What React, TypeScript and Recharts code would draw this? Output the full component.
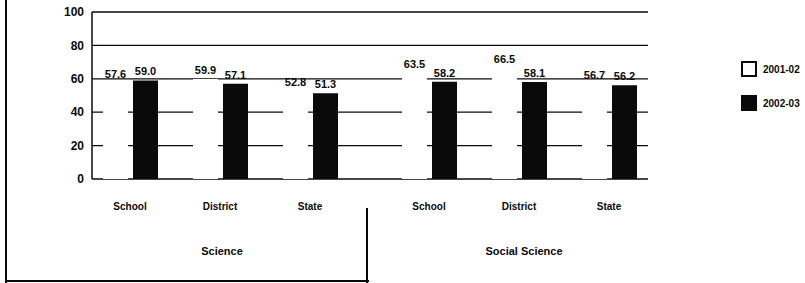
import React from "react";
import {
  BarChart,
  Bar,
  XAxis,
  YAxis,
  CartesianGrid,
  LabelList,
} from "recharts";

// ── Data ──────────────────────────────────────────────────────────────────────

const categories = ["School", "District", "State"];
const subjects = ["Science", "Social Science"];
const years = ["2001-02", "2002-03"];

const science2001 = [57.6, 59.9, 52.8];
const science2002 = [59.0, 57.1, 51.3];
const social2001 = [63.5, 66.5, 56.7];
const social2002 = [58.2, 58.1, 56.2];

const yTicks = [0, 20, 40, 60, 80, 100];

const scienceRows = categories.map((c, i) => ({ name: c, a: science2001[i], b: science2002[i] }));
const socialRows = categories.map((c, i) => ({ name: c, a: social2001[i], b: social2002[i] }));

// ── Styles ────────────────────────────────────────────────────────────────────

const FONT = "'Liberation Sans', Arial, sans-serif";
const INK = "#0a0a0a";
const H = 283;
const MARGIN_TOP = 12;
const MARGIN_BOTTOM = 74;
const X_AXIS_H = 30;

const fmt = (v: any) => Number(v).toFixed(1);

const labelStyle = { fontFamily: FONT, fontSize: 11, fontWeight: 700, fill: INK };
const tickStyle = { fontFamily: FONT, fontSize: 10, fontWeight: 700, fill: INK };

function Panel({
  rows,
  width,
  margin,
  padding,
  left,
}: {
  rows: any[];
  width: number;
  margin: any;
  padding: any;
  left: boolean;
}) {
  return (
    <BarChart width={width} height={H} data={rows} margin={margin} barSize={25} barGap={5}>
      <CartesianGrid vertical={false} stroke={INK} strokeWidth={1.3} />
      <XAxis
        dataKey="name"
        axisLine={false}
        tickLine={false}
        tick={tickStyle}
        tickMargin={18}
        height={X_AXIS_H}
        padding={padding}
        interval={0}
      />
      {left ? (
        <YAxis
          domain={[0, 100]}
          ticks={yTicks}
          width={92}
          axisLine={{ stroke: INK, strokeWidth: 1.5 }}
          tickLine={false}
          tick={{ ...tickStyle, fontSize: 12 }}
        />
      ) : (
        <YAxis
          orientation="right"
          domain={[0, 100]}
          ticks={yTicks}
          width={0}
          axisLine={{ stroke: INK, strokeWidth: 1.5 }}
          tickLine={false}
          tick={{ fill: "none", fontSize: 1 }}
        />
      )}
      <Bar dataKey="a" name={years[0]} fill="#ffffff" isAnimationActive={false}>
        <LabelList dataKey="a" position="top" formatter={fmt} style={labelStyle} />
      </Bar>
      <Bar dataKey="b" name={years[1]} fill={INK} isAnimationActive={false}>
        <LabelList dataKey="b" position="top" formatter={fmt} style={labelStyle} />
      </Bar>
    </BarChart>
  );
}

export default function App() {
  const groupLabel = {
    position: "absolute" as const,
    top: 245,
    fontFamily: FONT,
    fontSize: 11,
    fontWeight: 700,
    color: INK,
    transform: "translateX(-50%)",
    whiteSpace: "nowrap" as const,
  };
  return (
    <div
      style={{
        position: "absolute",
        left: 0,
        top: 0,
        width: 805,
        height: H,
        background: "#fff",
        overflow: "hidden",
      }}
    >
      <div style={{ position: "absolute", left: 0, top: 0 }}>
        <Panel
          rows={scienceRows}
          width={369}
          margin={{ top: MARGIN_TOP, right: 0, bottom: MARGIN_BOTTOM, left: 0 }}
          padding={{ left: -7, right: 14 }}
          left
        />
      </div>
      <div style={{ position: "absolute", left: 369, top: 0 }}>
        <Panel
          rows={socialRows}
          width={436}
          margin={{ top: MARGIN_TOP, right: 157, bottom: MARGIN_BOTTOM, left: 0 }}
          padding={{ left: 15, right: -6 }}
          left={false}
        />
      </div>

      {/* legend */}
      <div style={{ position: "absolute", left: 741, top: 61, display: "flex", flexDirection: "column", gap: 18 }}>
        {years.map((y, i) => (
          <div key={y} style={{ display: "flex", alignItems: "center", gap: 6 }}>
            <div
              style={{
                width: 12,
                height: 12,
                background: i === 0 ? "#fff" : INK,
                border: `2px solid ${INK}`,
              }}
            />
            <span style={{ fontFamily: FONT, fontSize: 10, fontWeight: 700, color: INK }}>{y}</span>
          </div>
        ))}
      </div>

      {/* frame and separator */}
      <div style={{ position: "absolute", left: 5, top: 0, width: 2, height: H, background: INK }} />
      <div style={{ position: "absolute", left: 5, top: 280, width: 364, height: 2, background: INK }} />
      <div style={{ position: "absolute", left: 366, top: 208, width: 2, height: H - 208, background: INK }} />

      <div style={{ ...groupLabel, left: 222 }}>{subjects[0]}</div>
      <div style={{ ...groupLabel, left: 524 }}>{subjects[1]}</div>
    </div>
  );
}
